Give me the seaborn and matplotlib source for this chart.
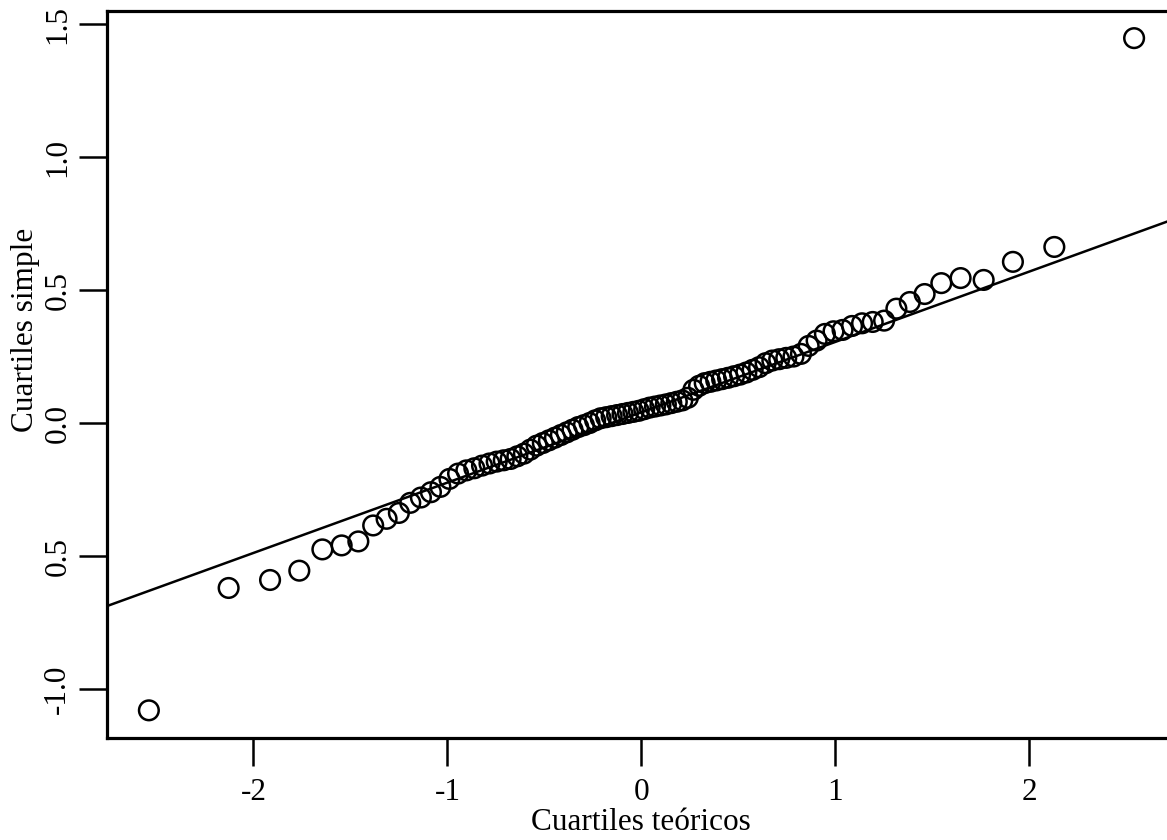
from statistics import NormalDist

import matplotlib
matplotlib.use("Agg")
import matplotlib.pyplot as plt
import numpy as np
import seaborn as sns

# sorted sample values (n = 90)
sample = [
    -1.08, -0.62, -0.59, -0.555, -0.475, -0.46, -0.445, -0.385, -0.36, -0.338,
    -0.30, -0.28, -0.26, -0.24, -0.21, -0.19, -0.178, -0.17, -0.16, -0.152,
    -0.145, -0.14, -0.135, -0.125, -0.115, -0.10, -0.085, -0.075, -0.065, -0.055,
    -0.045, -0.035, -0.025, -0.015, -0.008, 0.0, 0.01, 0.018, 0.022, 0.026,
    0.030, 0.034, 0.038, 0.042, 0.046, 0.052, 0.058, 0.062, 0.066, 0.07,
    0.075, 0.08, 0.085, 0.095, 0.125, 0.14, 0.15, 0.155, 0.16, 0.165,
    0.17, 0.176, 0.182, 0.19, 0.20, 0.21, 0.225, 0.235, 0.24, 0.245,
    0.25, 0.26, 0.29, 0.31, 0.335, 0.345, 0.35, 0.365, 0.375, 0.38,
    0.385, 0.43, 0.455, 0.485, 0.526, 0.545, 0.538, 0.606, 0.662, 1.447,
]

# reference line (through the quartiles)
line_intercept = 0.0407
line_slope = 0.2645

x_ticks = [-2, -1, 0, 1, 2]
x_tick_labels = ["-2", "-1", "0", "1", "2"]
y_ticks = [-1.0, -0.5, 0.0, 0.5, 1.0, 1.5]
y_tick_labels = ["-1.0", "0.5", "0.0", "0.5", "1.0", "1.5"]

n = len(sample)
theo = [NormalDist().inv_cdf((i - 0.5) / n) for i in range(1, n + 1)]

sns.set_theme(style="ticks")
plt.rcParams['font.family'] = ['Liberation Serif', 'DejaVu Serif']
plt.rcParams['axes.unicode_minus'] = False

W, H = 1167, 840
fig = plt.figure(figsize=(W / 100, H / 100), dpi=100)
ax = fig.add_axes([107 / W, 102 / H, (1175 - 107) / W, 727 / H])

sns.scatterplot(x=theo, y=sample, ax=ax, s=200, marker="o",
                facecolors="none", edgecolor="black", linewidth=1.8, zorder=3)
ax.axline((0, line_intercept), slope=line_slope, color="black", lw=1.8, zorder=2)

ax.set_xlim(-2.755, 2.75)
ax.set_ylim(-1.184, 1.549)

fs = 22.5
ax.set_xticks(x_ticks)
ax.set_xticklabels(x_tick_labels, fontsize=fs)
ax.set_yticks(y_ticks)
ax.set_yticklabels(y_tick_labels, fontsize=fs, rotation=90, va="center")
ax.tick_params(axis="both", length=20, width=1.8, color="black", colors="black")
ax.tick_params(axis="x", pad=9)
ax.tick_params(axis="y", pad=5)

for sp in ax.spines.values():
    sp.set_linewidth(2.3)
    sp.set_color("black")

ax.set_xlabel("Cuartiles teóricos", fontsize=fs, color="black")
ax.set_ylabel("Cuartiles simple", fontsize=fs, color="black")
ax.xaxis.set_label_coords((641 - 107) / (1175 - 107), -(808 - 738) / 727)
ax.xaxis.label.set_va("top")
ax.yaxis.set_label_coords(-(107 - 40) / (1175 - 107), (738 - 330) / 727)
ax.grid(False)

fig.savefig("out.png", dpi=100, facecolor="white")
